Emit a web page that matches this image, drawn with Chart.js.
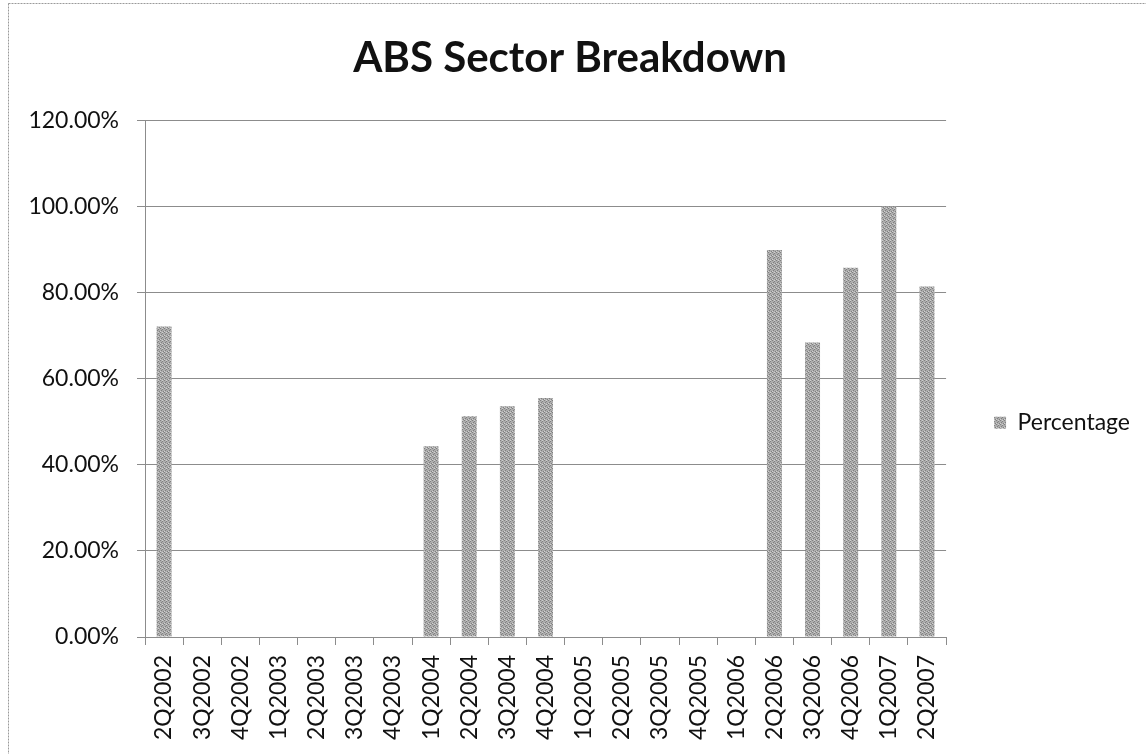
<!DOCTYPE html>
<html>
<head>
<meta charset="utf-8">
<script src="https://cdn.jsdelivr.net/npm/chart.js@4"></script>
<style>
  html, body { margin: 0; padding: 0; background: #fff; }
  #wrap { position: absolute; left: 0; top: 0; width: 1146px; height: 754px; }
</style>
</head>
<body>
<div id="wrap"><canvas id="chart" width="1146" height="754"></canvas></div>
<script>
// quarters on the x axis
const quarters = ['2Q2002', '3Q2002', '4Q2002', '1Q2003', '2Q2003', '3Q2003', '4Q2003',
  '1Q2004', '2Q2004', '3Q2004', '4Q2004', '1Q2005', '2Q2005', '3Q2005', '4Q2005',
  '1Q2006', '2Q2006', '3Q2006', '4Q2006', '1Q2007', '2Q2007'];
// percentage values (null = no bar)
const percentage = [72.1, null, null, null, null, null, null,
  44.3, 51.3, 53.6, 55.5, null, null, null, null,
  null, 89.9, 68.4, 85.8, 100.0, 81.4];
const yTicks = [0, 20, 40, 60, 80, 100, 120];

const FONT = "Lato, 'Open Sans', 'Noto Sans', sans-serif";

// dithered grey fill like the printed original
function makePattern() {
  const c = document.createElement('canvas');
  c.width = 4; c.height = 4;
  const g = c.getContext('2d');
  g.fillStyle = '#adadad';
  g.fillRect(0, 0, 4, 4);
  g.fillStyle = '#808080';
  g.fillRect(0, 0, 1, 1); g.fillRect(2, 1, 1, 1); g.fillRect(1, 2, 1, 1); g.fillRect(3, 3, 1, 1);
  g.fillStyle = '#d0d0d0';
  g.fillRect(2, 0, 1, 1); g.fillRect(0, 3, 1, 1);
  return g.createPattern(c, 'repeat');
}
const barFill = makePattern();

// outer frame of the chart object
const framePlugin = {
  id: 'frame',
  afterDraw(chart) {
    const ctx = chart.ctx;
    ctx.save();
    ctx.strokeStyle = '#9a9a9a';
    ctx.lineWidth = 1;
    ctx.setLineDash([2, 1]);
    ctx.strokeRect(8.5, 3.5, 1146, 760);
    ctx.restore();
  }
};

new Chart(document.getElementById('chart').getContext('2d'), {
  type: 'bar',
  data: {
    labels: quarters,
    datasets: [{
      label: 'Percentage',
      data: percentage,
      backgroundColor: barFill,
      borderWidth: 0,
      barPercentage: 0.8,
      categoryPercentage: 0.49
    }]
  },
  options: {
    responsive: false,
    animation: false,
    layout: { padding: { top: 0, left: 0, right: 6, bottom: 0 } },
    plugins: {
      tooltip: { enabled: false },
      title: {
        display: true,
        text: 'ABS Sector Breakdown',
        color: '#111',
        font: { family: FONT, size: 42, weight: 'bold' },
        padding: { top: 33, bottom: 37 }
      },
      legend: {
        position: 'right',
        title: {
          display: true,
          text: ' ',
          font: { size: 12 },
          padding: { top: 38, bottom: 39 }
        },
        labels: {
          color: '#111',
          font: { family: FONT, size: 23 },
          boxWidth: 12,
          boxHeight: 12,
          padding: 48
        }
      }
    },
    scales: {
      x: {
        grid: { drawOnChartArea: false, color: '#8c8c8c', tickLength: 8, offset: true },
        border: { color: '#8c8c8c' },
        ticks: {
          color: '#111',
          font: { family: FONT, size: 23 },
          autoSkip: false,
          minRotation: 90,
          maxRotation: 90,
          padding: 10
        },
        afterFit(scale) { scale.height = 117; }
      },
      y: {
        min: 0,
        max: 120,
        afterBuildTicks(scale) { scale.ticks = yTicks.map(v => ({ value: v })); },
        grid: { color: '#8c8c8c', tickLength: 8 },
        border: { color: '#8c8c8c' },
        ticks: {
          color: '#111',
          font: { family: FONT, size: 23 },
          padding: 18,
          callback: v => v.toFixed(2) + '%'
        },
        afterFit(scale) { scale.width = 145; }
      }
    }
  },
  plugins: [framePlugin]
});
</script>
</body>
</html>
